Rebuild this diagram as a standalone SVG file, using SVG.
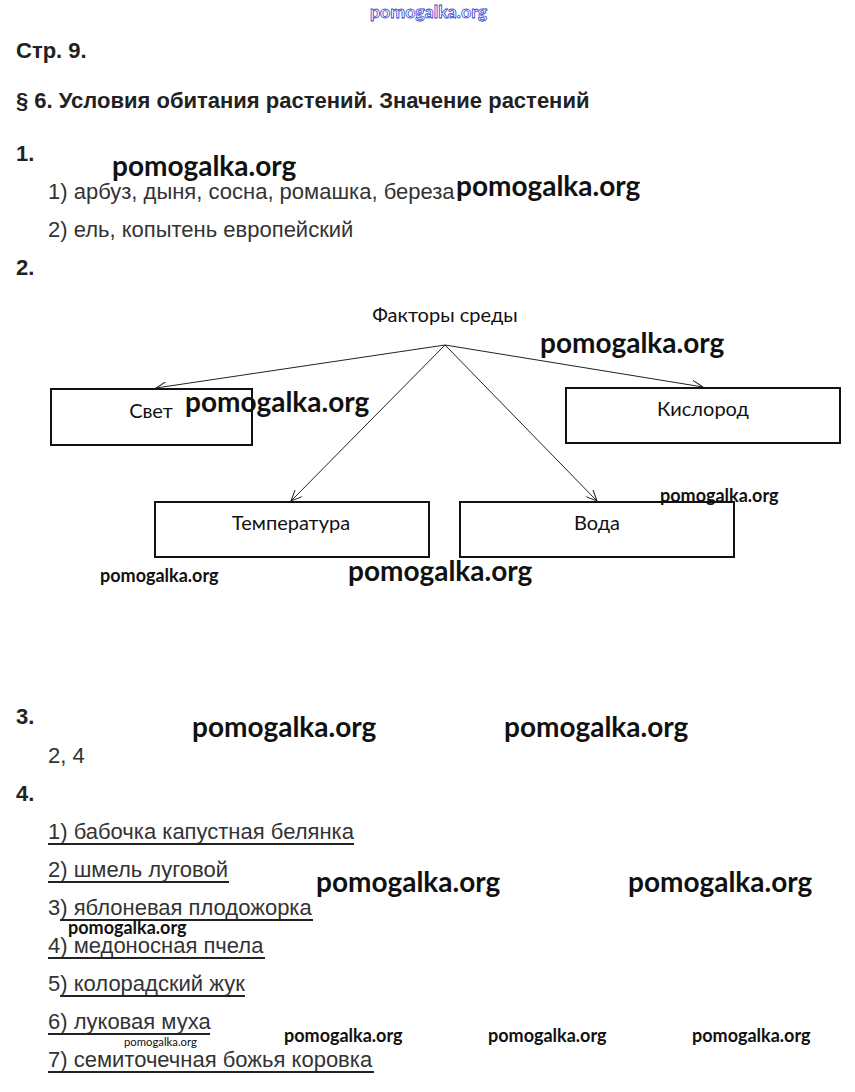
<svg xmlns="http://www.w3.org/2000/svg" width="855" height="1092" viewBox="0 0 855 1092">
<style>
.h{font-family:"Liberation Sans",Arial,sans-serif;font-weight:bold;font-size:22px;fill:#222}
.t{font-family:"Liberation Sans",Arial,sans-serif;font-size:22px;fill:#333}
.d{font-family:Lato,"Open Sans",sans-serif;font-size:20px;fill:#111}
.w{font-family:Lato,"Open Sans",sans-serif;font-weight:bold;fill:#111}
.big{font-size:28px}
.sm{font-size:18px}
.box{fill:#fff;stroke:#111;stroke-width:2}
.con{stroke:#222;stroke-width:1;fill:none}
.ul{stroke:#222;stroke-width:2}
</style>
<defs>
<marker id="arr" markerWidth="12" markerHeight="10" refX="11" refY="5" orient="auto" markerUnits="userSpaceOnUse">
<path d="M0,0 L11,5 L0,10" fill="none" stroke="#222" stroke-width="1"/>
</marker>
</defs>
<rect width="855" height="1092" fill="#fff"/>
<text x="370" y="18" font-family="Lato,sans-serif" font-size="17.8" fill="#fff" stroke="#3344cc" stroke-width="0.8" font-weight="bold">pomogalka.org</text>
<text class="h" x="16" y="58">Стр. 9.</text>
<text class="h" x="16" y="108">§ 6. Условия обитания растений. Значение растений</text>
<text class="h" x="16" y="161">1.</text>
<text class="t" x="48" y="199">1) арбуз, дыня, сосна, ромашка, береза</text>
<text class="t" x="48" y="237">2) ель, копытень европейский</text>
<text class="h" x="16" y="275">2.</text>

<g id="connectors">
<line class="con" x1="445" y1="345" x2="156" y2="388" marker-end="url(#arr)"/>
<line class="con" x1="445" y1="345" x2="703" y2="387" marker-end="url(#arr)"/>
<line class="con" x1="445" y1="345" x2="291" y2="501" marker-end="url(#arr)"/>
<line class="con" x1="445" y1="345" x2="597" y2="501" marker-end="url(#arr)"/>
</g>
<g id="root"><text class="d" x="445" y="322" text-anchor="middle">Факторы среды</text></g>
<g id="svet"><rect class="box" x="51" y="389" width="201" height="56"/><text class="d" x="151" y="418" text-anchor="middle">Свет</text></g>
<g id="kislorod"><rect class="box" x="566" y="388" width="274" height="55"/><text class="d" x="703" y="416" text-anchor="middle">Кислород</text></g>
<g id="temperatura"><rect class="box" x="155" y="502" width="274" height="55"/><text class="d" x="291" y="530" text-anchor="middle">Температура</text></g>
<g id="voda"><rect class="box" x="460" y="502" width="274" height="55"/><text class="d" x="597" y="530" text-anchor="middle">Вода</text></g>

<text class="h" x="16" y="724">3.</text>
<text class="t" x="48" y="763">2, 4</text>
<text class="h" x="16" y="801">4.</text>
<text class="t" x="48" y="839">1) бабочка капустная белянка</text>
<line class="ul" x1="48" y1="844" x2="354" y2="844"/>
<text class="t" x="48" y="877">2) шмель луговой</text>
<line class="ul" x1="48" y1="882" x2="229" y2="882"/>
<text class="t" x="48" y="915">3) яблоневая плодожорка</text>
<line class="ul" x1="60" y1="920" x2="313" y2="920"/>
<text class="t" x="48" y="953">4) медоносная пчела</text>
<line class="ul" x1="48" y1="958" x2="265" y2="958"/>
<text class="t" x="48" y="991">5) колорадский жук</text>
<line class="ul" x1="60" y1="996" x2="245" y2="996"/>
<text class="t" x="48" y="1029">6) луковая муха</text>
<line class="ul" x1="48" y1="1034" x2="210" y2="1034"/>
<text class="t" x="48" y="1067">7) семиточечная божья коровка</text>
<line class="ul" x1="48" y1="1072" x2="374" y2="1072"/>

<g class="w">
<text class="big" x="112" y="176">pomogalka.org</text>
<text class="big" x="456" y="196">pomogalka.org</text>
<text class="big" x="540" y="353">pomogalka.org</text>
<text class="big" x="185" y="412">pomogalka.org</text>
<text class="sm" x="660" y="502">pomogalka.org</text>
<text class="sm" x="100" y="582">pomogalka.org</text>
<text class="big" x="348" y="581">pomogalka.org</text>
<text class="big" x="192" y="737">pomogalka.org</text>
<text class="big" x="504" y="737">pomogalka.org</text>
<text class="big" x="316" y="892">pomogalka.org</text>
<text class="big" x="628" y="892">pomogalka.org</text>
<text class="sm" x="68" y="934">pomogalka.org</text>
<text x="124" y="1046" font-size="11.3" font-weight="normal">pomogalka.org</text>
<text class="sm" x="284" y="1042">pomogalka.org</text>
<text class="sm" x="488" y="1042">pomogalka.org</text>
<text class="sm" x="692" y="1042">pomogalka.org</text>
</g>
</svg>
